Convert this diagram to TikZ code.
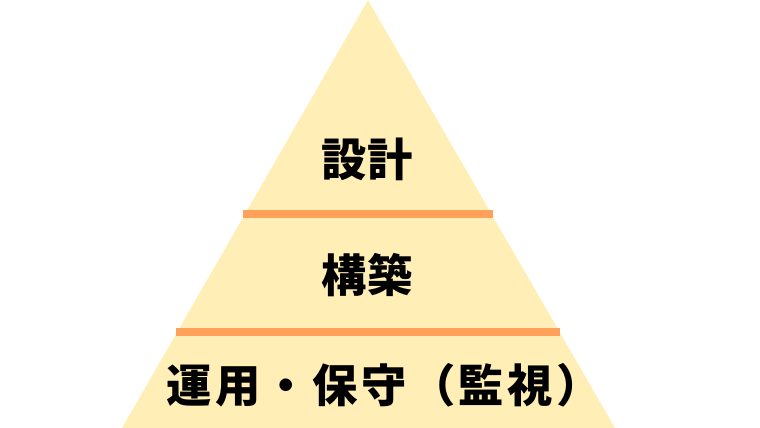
\documentclass[tikz,border=0pt]{standalone}
\usepackage{fontspec}
\newfontfamily\cjk{Noto Sans CJK JP}
\definecolor{pyr}{HTML}{FFEFB6}
\definecolor{band}{HTML}{FFA15A}
\tikzset{
  layer/.style={font=\cjk\bfseries\fontsize{34}{40}\selectfont, text=black, inner sep=0pt},
  bandbar/.style={fill=band, draw=none}
}
\begin{document}
\begin{tikzpicture}[x=0.75pt,y=-0.75pt]
\useasboundingbox (0,0) rectangle (760,428);
\fill[pyr] (368,0) -- (615,428) -- (122,428) -- cycle;
\fill[bandbar] (243,210) rectangle (493,218);
\fill[bandbar] (176,327.5) rectangle (560,335.5);
\node[layer] (design) at (367,159) {設計};
\node[layer] (build) at (367,275) {構築};
\node[layer] (ops) at (384,385) {\addfontfeature{LetterSpace=7.5}運用・保守（監視）};
\end{tikzpicture}
\end{document}
